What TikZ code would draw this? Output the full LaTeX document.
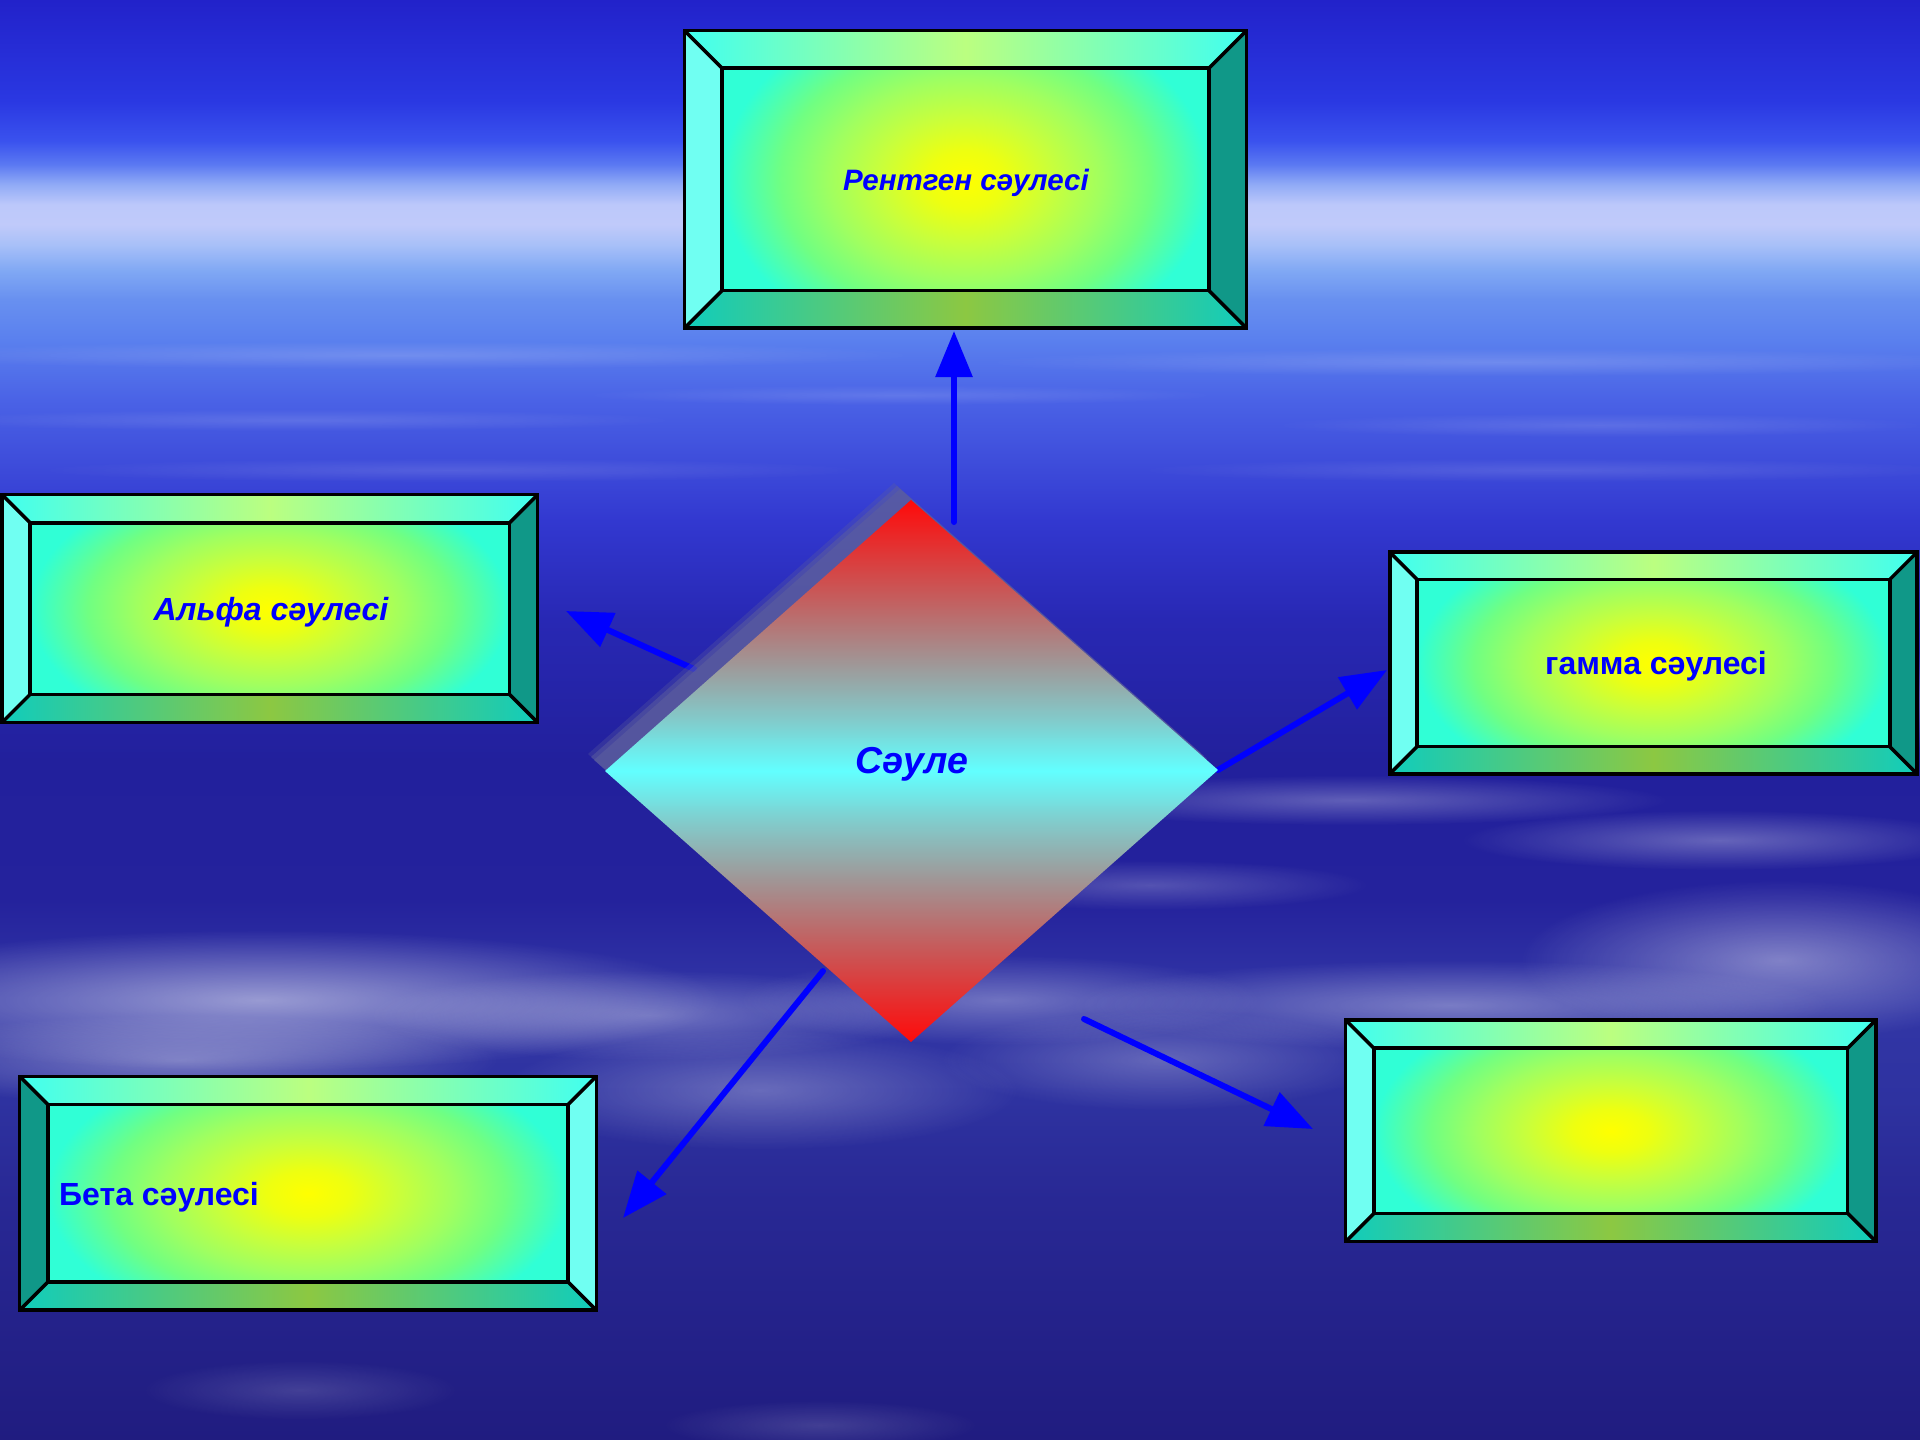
\documentclass[tikz,border=0pt]{standalone}
\usepackage{fontspec}
\setmainfont{Liberation Sans}
\usetikzlibrary{arrows.meta,fadings,calc}

% background colours
\definecolor{bgS}{HTML}{2222CA}
\definecolor{bgT}{HTML}{2A38E2}
\definecolor{bgU}{HTML}{3A52EE}
\definecolor{bgU2}{HTML}{5A78F2}
\definecolor{bgV}{HTML}{90AAF6}
\definecolor{bgW}{HTML}{BCC8FA}
\definecolor{bgW1}{HTML}{C0CAFA}
\definecolor{bgW2}{HTML}{A8C0F8}
\definecolor{bgB}{HTML}{80A8F4}
\definecolor{bgB1}{HTML}{6890F0}
\definecolor{bgB2}{HTML}{5A80EE}
\definecolor{bgC}{HTML}{4A62E6}
\definecolor{bgD}{HTML}{3238D0}
\definecolor{bgE}{HTML}{2828B4}
\definecolor{bgF}{HTML}{22209C}
\definecolor{bgG}{HTML}{24229C}
\definecolor{bgH}{HTML}{3236A6}
\definecolor{bgI}{HTML}{2E32A0}
\definecolor{bgJ}{HTML}{282894}
\definecolor{bgK}{HTML}{201C80}
% box colours
\definecolor{bvTopE}{HTML}{40FFF0}
\definecolor{bvTopM}{HTML}{BBFF80}
\definecolor{bvBotE}{HTML}{10CCBC}
\definecolor{bvBotM}{HTML}{8CC842}
\definecolor{bvL}{HTML}{70FFF2}
\definecolor{bvR}{HTML}{109888}
\definecolor{gA}{HTML}{FFFF00}
\definecolor{gB}{HTML}{EEFF10}
\definecolor{gC}{HTML}{C8FF3C}
\definecolor{gD}{HTML}{A0FF60}
\definecolor{gE}{HTML}{70FF82}
\definecolor{gF}{HTML}{30FFD6}
% diamond colours
\definecolor{dRed}{HTML}{FF0A0A}
\definecolor{dA}{HTML}{C85858}
\definecolor{dB}{HTML}{A09696}
\definecolor{dC}{HTML}{84C8C8}
\definecolor{dCy}{HTML}{62FFFF}
\definecolor{shadowc}{HTML}{5C5E9E}
\definecolor{arrblue}{RGB}{0,0,255}

% y(px) -> bp : 75 - 50*y/1440
\pgfdeclareverticalshading{skybg}{100bp}{%
color(0bp)=(bgK); color(25bp)=(bgK); color(33.3bp)=(bgJ); color(36.8bp)=(bgI);
color(40.3bp)=(bgH); color(43.75bp)=(bgG); color(48.6bp)=(bgF); color(53.5bp)=(bgE);
color(56.9bp)=(bgD); color(61.1bp)=(bgC); color(63.2bp)=(bgB2); color(64.6bp)=(bgB1);
color(65.6bp)=(bgB); color(66.5bp)=(bgW2); color(67.2bp)=(bgW1); color(67.9bp)=(bgW);
color(68.6bp)=(bgV); color(69.3bp)=(bgU2); color(70.1bp)=(bgU);
color(71.5bp)=(bgT); color(75bp)=(bgS); color(100bp)=(bgS)}

\pgfdeclareradialshading{boxglow}{\pgfpoint{0bp}{0bp}}{%
color(0bp)=(gA); color(4bp)=(gB); color(9bp)=(gC); color(14bp)=(gD);
color(19bp)=(gE); color(25bp)=(gF); color(50bp)=(gF)}

\pgfdeclareverticalshading{diamsh}{100bp}{%
color(0bp)=(dRed); color(25bp)=(dRed); color(33.5bp)=(dA); color(40bp)=(dB);
color(45bp)=(dC); color(50bp)=(dCy); color(55bp)=(dC); color(60bp)=(dB);
color(66.5bp)=(dA); color(75bp)=(dRed); color(100bp)=(dRed)}

\tikzfading[name=softfade, inner color=transparent!0, outer color=transparent!100]

\tikzset{
  boxline/.style={draw=black, line width=3.5pt, line join=miter},
  arr/.style={draw=arrblue, line width=6pt, line cap=round,
    -{Triangle[length=46pt,width=36pt]}},
  lbl/.style={text=arrblue, inner sep=0pt, font=\fontsize{32}{38}\selectfont\bfseries},
  lbli/.style={text=arrblue, inner sep=0pt, font=\fontsize{32}{38}\selectfont\bfseries\itshape},
  lblxr/.style={text=arrblue, inner sep=0pt, font=\fontsize{29.5}{35}\selectfont\bfseries\itshape},
  lblbig/.style={text=arrblue, inner sep=0pt, font=\fontsize{37.5}{44}\selectfont\bfseries\itshape},
  cloud/.style={fill=white, path fading=softfade}
}

\newcommand\bevbox[8]{%
 \coordinate (#1-o1) at (#2,#3);
 \coordinate (#1-o2) at (#4,#3);
 \coordinate (#1-o3) at (#4,#5);
 \coordinate (#1-o4) at (#2,#5);
 \coordinate (#1-i1) at ({#2+#6},{#3+#6});
 \coordinate (#1-i2) at ({#4-#6},{#3+#6});
 \coordinate (#1-i3) at ({#4-#6},{#5-#6});
 \coordinate (#1-i4) at ({#2+#6},{#5-#6});
 \shade[left color=bvTopE, right color=bvTopE, middle color=bvTopM]
   (#1-o1)--(#1-o2)--(#1-i2)--(#1-i1)--cycle;
 \shade[left color=bvBotE, right color=bvBotE, middle color=bvBotM]
   (#1-o4)--(#1-o3)--(#1-i3)--(#1-i4)--cycle;
 \fill[#7] (#1-o1)--(#1-i1)--(#1-i4)--(#1-o4)--cycle;
 \fill[#8] (#1-o2)--(#1-i2)--(#1-i3)--(#1-o3)--cycle;
 \begin{scope}
  \clip (#1-i1) rectangle (#1-i3);
  \shade[shading=boxglow] ({#2+#6},{(#3+#5)/2-0.8*(#5-#3-2*#6)}) rectangle ({#4-#6},{(#3+#5)/2+0.8*(#5-#3-2*#6)});
 \end{scope}
 \draw[boxline] (#1-o1) rectangle (#1-o3);
 \draw[boxline] (#1-i1) rectangle (#1-i3);
 \draw[boxline] (#1-o1)--(#1-i1) (#1-o2)--(#1-i2) (#1-o3)--(#1-i3) (#1-o4)--(#1-i4);
 \node[inner sep=0pt, minimum width={(#4-#2)*1pt}, minimum height={(#5-#3)*1pt}] (#1) at ({(#2+#4)/2},{(#3+#5)/2}) {};
}

\begin{document}
\begin{tikzpicture}[x=1pt,y=-1pt]
\useasboundingbox (0,0) rectangle (1920,1440);
% sky
\shade[shading=skybg] (0,0) rectangle (1920,1440);
% faint streaks in the upper sky
\fill[cloud, opacity=.16] (400,355) ellipse [x radius=520, y radius=14];
\fill[cloud, opacity=.16] (1500,362) ellipse [x radius=520, y radius=14];
\fill[cloud, opacity=.13] (300,420) ellipse [x radius=380, y radius=11];
\fill[cloud, opacity=.13] (1600,425) ellipse [x radius=330, y radius=12];
\fill[cloud, opacity=.12] (900,395) ellipse [x radius=320, y radius=10];
\fill[cloud, opacity=.12] (450,470) ellipse [x radius=420, y radius=12];
\fill[cloud, opacity=.12] (1550,470) ellipse [x radius=420, y radius=12];
% lower clouds
\fill[cloud, opacity=.5] (260,1000) ellipse [x radius=460, y radius=70];
\fill[cloud, opacity=.35] (180,1060) ellipse [x radius=320, y radius=45];
\fill[cloud, opacity=.3] (650,1015) ellipse [x radius=280, y radius=45];
\fill[cloud, opacity=.28] (760,1090) ellipse [x radius=260, y radius=60];
\fill[cloud, opacity=.3] (1000,1000) ellipse [x radius=260, y radius=45];
\fill[cloud, opacity=.25] (1160,1060) ellipse [x radius=220, y radius=50];
\fill[cloud, opacity=.35] (1450,1005) ellipse [x radius=380, y radius=45];
\fill[cloud, opacity=.4] (1780,960) ellipse [x radius=260, y radius=80];
\fill[cloud, opacity=.28] (1350,800) ellipse [x radius=320, y radius=25];
\fill[cloud, opacity=.3] (1720,840) ellipse [x radius=260, y radius=30];
\fill[cloud, opacity=.22] (1150,885) ellipse [x radius=220, y radius=25];
\fill[cloud, opacity=.3] (1880,700) ellipse [x radius=160, y radius=50];
\fill[cloud, opacity=.15] (300,1390) ellipse [x radius=160, y radius=30];
\fill[cloud, opacity=.15] (820,1425) ellipse [x radius=160, y radius=25];

% boxes
\bevbox{xray}{684.5}{30.6}{1246.5}{328.2}{37.5}{bvL}{bvR}
\bevbox{alpha}{2}{494.7}{537.6}{722.5}{28.2}{bvL}{bvR}
\bevbox{gamma}{1389.8}{552.2}{1917}{773.9}{27.2}{bvL}{bvR}
\bevbox{beta}{19.6}{1076.3}{596.3}{1310.2}{28.2}{bvR}{bvL}
\bevbox{empty}{1345.7}{1020}{1875.9}{1241.6}{28.2}{bvL}{bvR}

% diamond corners
\coordinate (svT) at (911,500);
\coordinate (svR) at (1218,770);
\coordinate (svB) at (911,1042);
\coordinate (svL) at (605,771);

% arrow end points
\coordinate (aUs) at (954,522);
\coordinate (aUe) at (954,331);
\coordinate (aAs) at (694,669);
\coordinate (aAe) at (566,611);
\coordinate (aGe) at (1387,670);
\coordinate (aBs) at (823,971);
\coordinate (aBe) at (623,1218);
\coordinate (aEs) at (1084,1019);
\coordinate (aEe) at (1313,1129);

\draw[arr] (aUs) -- (aUe);
\draw[arr] (aAs) -- (aAe);
\draw[arr] (svR) -- (aGe);
\draw[arr] (aBs) -- (aBe);
\draw[arr] (aEs) -- (aEe);

% diamond shadow (soft)
\begin{scope}[shift={(-17,-17)}]
\fill[shadowc, opacity=.3] (911,500)--(1218,770)--(911,1042)--(605,771)--cycle;
\end{scope}
\begin{scope}[shift={(-14,-14)}]
\fill[shadowc, opacity=.5] (911,500)--(1218,770)--(911,1042)--(605,771)--cycle;
\end{scope}
\begin{scope}[shift={(-11,-11)}]
\fill[shadowc, opacity=.6] (911,500)--(1218,770)--(911,1042)--(605,771)--cycle;
\end{scope}
% diamond
\shade[shading=diamsh] (svT)--(svR)--(svB)--(svL)--cycle;

% labels
\node[lblbig, anchor=base] (svtext) at (912,773) {Сәуле};
\node[lblxr, anchor=base] (xraytext) at (966,190) {Рентген сәулесі};
\node[lbli, anchor=base] (alphatext) at (271,620) {Альфа сәулесі};
\node[lbl, anchor=base] (gammatext) at (1656,674) {гамма сәулесі};
\node[lbl, anchor=base west] (betatext) at (59,1205) {Бета сәулесі};
\end{tikzpicture}
\end{document}
